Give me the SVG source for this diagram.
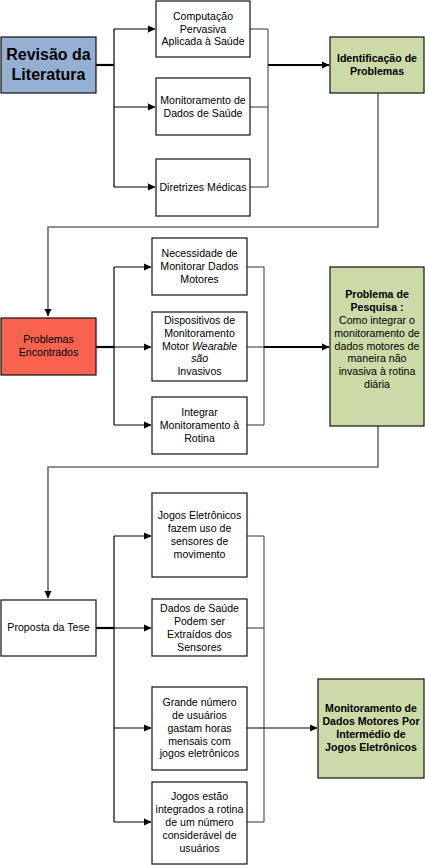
<svg xmlns="http://www.w3.org/2000/svg" width="425" height="865" viewBox="0 0 425 865">
<style>
text{font-family:"Liberation Sans",Arial,sans-serif;font-size:10.6px;fill:#000;text-anchor:middle}
.b{font-weight:bold}
.box{fill:#fff;stroke:#111;stroke-width:1.2}
.blue{fill:#95B0D3;stroke:#111;stroke-width:1.2}
.green{fill:#CCDAA8;stroke:#111;stroke-width:1.2}
.red{fill:#F7634F;stroke:#111;stroke-width:1.2}
.ln{fill:none;stroke:#000;stroke-width:1.2}
.rl{fill:none;stroke:#333;stroke-width:1}
.th{fill:none;stroke:#000;stroke-width:2.2}
.gr{fill:none;stroke:#6e6e6e;stroke-width:1.6}
</style>
<defs>
<marker id="ah" markerWidth="8" markerHeight="8" refX="7" refY="4" orient="auto" markerUnits="userSpaceOnUse">
<path d="M0,0.5 L7.5,4 L0,7.5 Z" fill="#000"/>
</marker>
</defs>
<g id="connectors">
<path class="th" d="M96,65 H114"/>
<path class="ln" d="M114,29 V187"/>
<path class="ln" d="M114,29 H155" marker-end="url(#ah)"/>
<path class="ln" d="M114,107 H155" marker-end="url(#ah)"/>
<path class="ln" d="M114,187 H155" marker-end="url(#ah)"/>
<path class="rl" d="M250,29 H268 V187 H250 M250,107 H268"/>
<path class="th" d="M268,65 H329" marker-end="url(#ah)"/>
<path class="gr" d="M378,93 V227 H48 V316" marker-end="url(#ah)"/>
<path class="th" d="M96,347 H114"/>
<path class="ln" d="M114,267 V425"/>
<path class="ln" d="M114,267 H151" marker-end="url(#ah)"/>
<path class="ln" d="M114,347 H151" marker-end="url(#ah)"/>
<path class="ln" d="M114,425 H151" marker-end="url(#ah)"/>
<path class="rl" d="M247,267 H264 V425 H247 M247,347 H264"/>
<path class="th" d="M264,347 H329" marker-end="url(#ah)"/>
<path class="gr" d="M378,426 V467 H48 V598" marker-end="url(#ah)"/>
<path class="th" d="M96,628 H114"/>
<path class="ln" d="M114,536 V822"/>
<path class="ln" d="M114,536 H151" marker-end="url(#ah)"/>
<path class="ln" d="M114,628 H151" marker-end="url(#ah)"/>
<path class="ln" d="M114,728 H151" marker-end="url(#ah)"/>
<path class="ln" d="M114,822 H151" marker-end="url(#ah)"/>
<path class="rl" d="M247,536 H264 V822 H247 M247,628 H264"/>
<path class="ln" d="M247,728 H317" marker-end="url(#ah)"/>
</g>
<g id="revisao">
<rect class="blue" x="1" y="37" width="95" height="56"/>
<text class="b" style="font-size:16px" x="48.5" y="60">Revisão da</text>
<text class="b" style="font-size:16px" x="48.5" y="80">Literatura</text>
</g>
<g id="computacao">
<rect class="box" x="156" y="1" width="94" height="56"/>
<text x="203" y="20">Computação</text>
<text x="203" y="32.5">Pervasiva</text>
<text x="203" y="45">Aplicada à Saúde</text>
</g>
<g id="monitoramento-saude">
<rect class="box" x="156" y="78" width="94" height="57"/>
<text x="203" y="104">Monitoramento de</text>
<text x="203" y="116.5">Dados de Saúde</text>
</g>
<g id="diretrizes">
<rect class="box" x="156" y="159" width="94" height="57"/>
<text x="203" y="191">Diretrizes Médicas</text>
</g>
<g id="identificacao">
<rect class="green" x="330" y="37" width="94" height="56"/>
<text class="b" x="377" y="62">Identificação de</text>
<text class="b" x="377" y="75">Problemas</text>
</g>
<g id="problemas-encontrados">
<rect class="red" x="1" y="318" width="95" height="57"/>
<text x="48.5" y="343">Problemas</text>
<text x="48.5" y="356">Encontrados</text>
</g>
<g id="necessidade">
<rect class="box" x="152" y="238" width="95" height="57"/>
<text x="199.5" y="257">Necessidade de</text>
<text x="199.5" y="270">Monitorar Dados</text>
<text x="199.5" y="283">Motores</text>
</g>
<g id="dispositivos">
<rect class="box" x="152" y="312" width="95" height="69"/>
<text x="199.5" y="324">Dispositivos de</text>
<text x="199.5" y="337">Monitoramento</text>
<text x="199.5" y="350">Motor <tspan font-style="italic">Wearable</tspan></text>
<text x="199.5" y="362" font-style="italic">são</text>
<text x="199.5" y="375">Invasivos</text>
</g>
<g id="integrar">
<rect class="box" x="152" y="397" width="95" height="57"/>
<text x="199.5" y="416">Integrar</text>
<text x="199.5" y="429">Monitoramento à</text>
<text x="199.5" y="442">Rotina</text>
</g>
<g id="problema-pesquisa">
<rect class="green" x="330" y="267" width="94" height="159"/>
<text class="b" x="377" y="298">Problema de</text>
<text class="b" x="377" y="311">Pesquisa :</text>
<text x="377" y="324">Como integrar o</text>
<text x="377" y="337">monitoramento de</text>
<text x="377" y="350">dados motores de</text>
<text x="377" y="362">maneira não</text>
<text x="377" y="375">invasiva à rotina</text>
<text x="377" y="388">diária</text>
</g>
<g id="proposta">
<rect class="box" x="1" y="600" width="95" height="56"/>
<text x="48.5" y="631">Proposta da Tese</text>
</g>
<g id="jogos-sensores">
<rect class="box" x="152" y="493" width="95" height="84"/>
<text x="199.5" y="519">Jogos Eletrônicos</text>
<text x="199.5" y="532">fazem uso de</text>
<text x="199.5" y="545">sensores de</text>
<text x="199.5" y="558">movimento</text>
</g>
<g id="dados-saude">
<rect class="box" x="152" y="599" width="95" height="57"/>
<text x="199.5" y="612">Dados de Saúde</text>
<text x="199.5" y="625">Podem ser</text>
<text x="199.5" y="638">Extraídos dos</text>
<text x="199.5" y="651">Sensores</text>
</g>
<g id="grande-numero">
<rect class="box" x="152" y="687" width="95" height="83"/>
<text x="199.5" y="706">Grande número</text>
<text x="199.5" y="719">de usuários</text>
<text x="199.5" y="732">gastam horas</text>
<text x="199.5" y="745">mensais com</text>
<text x="199.5" y="757">jogos eletrônicos</text>
</g>
<g id="jogos-rotina">
<rect class="box" x="152" y="782" width="95" height="82"/>
<text x="199.5" y="800">Jogos estão</text>
<text x="199.5" y="813">integrados a rotina</text>
<text x="199.5" y="826">de um número</text>
<text x="199.5" y="839">considerável de</text>
<text x="199.5" y="852">usuários</text>
</g>
<g id="monitoramento-final">
<rect class="green" x="318" y="679" width="106" height="99"/>
<text class="b" x="371" y="712">Monitoramento de</text>
<text class="b" x="371" y="725">Dados Motores Por</text>
<text class="b" x="371" y="738">Intermédio de</text>
<text class="b" x="371" y="751">Jogos Eletrônicos</text>
</g>
</svg>
